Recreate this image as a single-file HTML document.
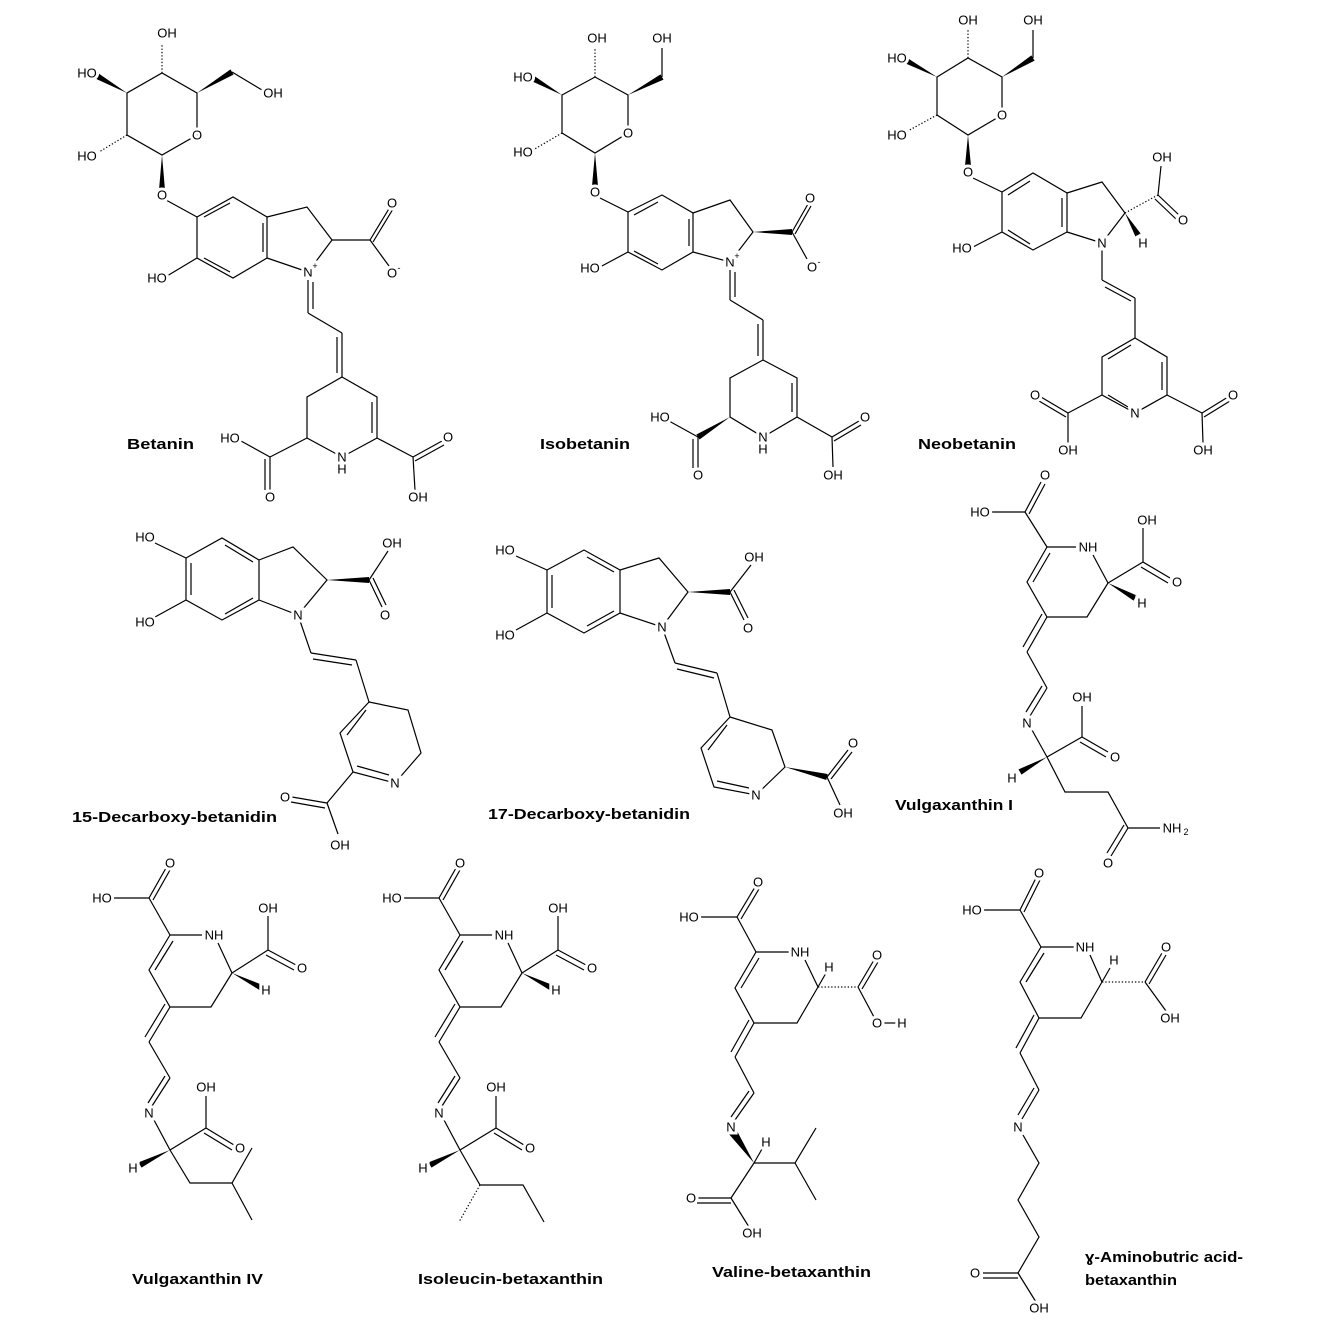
<!DOCTYPE html>
<html><head><meta charset="utf-8"><style>
html,body{margin:0;padding:0;background:#fff}
svg{display:block}
.b line,.b polyline,.b polygon.r{stroke:#000;stroke-width:1.2;fill:none}
.w{fill:#000;stroke:none}
.h{stroke:#000;stroke-width:6;stroke-dasharray:1.3 2;fill:none}
.t text{font-family:"Liberation Sans",sans-serif;font-size:13px;fill:#000;text-anchor:middle;dominant-baseline:central;paint-order:stroke;stroke:#fff;stroke-width:6px}
.t text.s{stroke-width:0}
.L{font-family:"Liberation Sans",sans-serif;font-weight:bold;font-size:15px;fill:#000}
</style></head><body>
<svg width="1323" height="1323" viewBox="0 0 1323 1323" xmlns="http://www.w3.org/2000/svg">
<rect width="1323" height="1323" fill="#fff"/>
<g class="b">
<!-- ===== Betanin ===== -->
<polygon class="r" points="127,93 162,73 197,93 197,135 162,155 127,135"/>
<polygon class="w" points="127,93 98.5,73.4 95.5,78.6"/>
<polygon class="w" points="197,93 233.5,74.6 230.5,69.4"/>
<line x1="232" y1="72" x2="262" y2="90"/>
<line class="h" x1="162" y1="73" x2="162" y2="45"/>
<line class="h" x1="127" y1="135" x2="99" y2="152"/>
<polygon class="w" points="162,155 165,190 159,190"/>
<line x1="166" y1="200" x2="197" y2="217"/>
<polygon class="r" points="197,217 233,197 267,217 267,258 233,278 197,258"/>
<line x1="204" y1="217" x2="230" y2="203"/>
<line x1="263" y1="223" x2="263" y2="252"/>
<line x1="230" y1="272" x2="204" y2="258"/>
<line x1="197" y1="258" x2="167" y2="276"/>
<polyline points="267,217 307,207 332,240 308,272 267,258"/>
<line x1="332" y1="240" x2="370" y2="240"/>
<line x1="370" y1="240" x2="390" y2="207"/>
<line x1="373" y1="242" x2="393" y2="209"/>
<line x1="370" y1="240" x2="389" y2="266"/>
<line x1="308" y1="280" x2="308" y2="313"/>
<line x1="313" y1="282" x2="313" y2="309"/>
<line x1="308" y1="313" x2="342" y2="333"/>
<line x1="342" y1="333" x2="342" y2="377"/>
<line x1="337" y1="337" x2="337" y2="373"/>
<polygon class="r" points="342,377 377,397 377,438 342,457 307,438 307,397"/>
<line x1="372" y1="402" x2="372" y2="433"/>
<line x1="307" y1="438" x2="270" y2="457"/>
<line x1="270" y1="457" x2="241" y2="441"/>
<line x1="270" y1="457" x2="270" y2="490"/>
<line x1="265" y1="459" x2="265" y2="490"/>
<line x1="377" y1="438" x2="413" y2="457"/>
<line x1="413" y1="457" x2="442" y2="441"/>
<line x1="415" y1="461" x2="444" y2="445"/>
<line x1="413" y1="457" x2="415" y2="490"/>

<!-- ===== Isobetanin ===== -->
<polygon class="r" points="562,95 595,77 628,95 628,133 595,153 562,133"/>
<polygon class="w" points="562,95 533.5,75.4 530.5,80.6"/>
<polygon class="w" points="628,95 663.5,79.6 660.5,74.4"/>
<line x1="662" y1="77" x2="662" y2="48"/>
<line class="h" x1="595" y1="77" x2="595" y2="49"/>
<line class="h" x1="562" y1="133" x2="533" y2="150"/>
<polygon class="w" points="595,153 598,186 592,186"/>
<line x1="600" y1="198" x2="628" y2="212"/>
<polygon class="r" points="628,212 662,195 693,213 693,252 662,270 628,252"/>
<line x1="634" y1="215" x2="658" y2="202"/>
<line x1="689" y1="219" x2="689" y2="246"/>
<line x1="658" y1="264" x2="634" y2="251"/>
<line x1="628" y1="252" x2="600" y2="267"/>
<polyline points="693,213 730,200 753,232 730,262 693,252"/>
<polygon class="w" points="753,232 792,235 792,229"/>
<line x1="792" y1="232" x2="808" y2="204"/>
<line x1="795" y1="234" x2="811" y2="206"/>
<line x1="792" y1="232" x2="807" y2="259"/>
<line x1="730" y1="270" x2="730" y2="300"/>
<line x1="735" y1="272" x2="735" y2="297"/>
<line x1="730" y1="300" x2="763" y2="320"/>
<line x1="763" y1="320" x2="763" y2="360"/>
<line x1="758" y1="324" x2="758" y2="356"/>
<polygon class="r" points="763,360 797,378 797,417 763,437 730,417 730,378"/>
<line x1="792" y1="383" x2="792" y2="412"/>
<polygon class="w" points="730,417 699.6,439.5 696.4,434.5"/>
<line x1="698" y1="437" x2="669" y2="421"/>
<line x1="698" y1="437" x2="698" y2="468"/>
<line x1="693" y1="439" x2="693" y2="468"/>
<line x1="797" y1="417" x2="832" y2="437"/>
<line x1="832" y1="437" x2="859" y2="421"/>
<line x1="834" y1="441" x2="861" y2="425"/>
<line x1="832" y1="437" x2="833" y2="467"/>

<!-- ===== Neobetanin ===== -->
<polygon class="r" points="937,77 968,58 1002,77 1002,115 968,135 937,115"/>
<polygon class="w" points="937,77 906.4,57.4 903.6,62.6"/>
<polygon class="w" points="1002,77 1034.6,60.6 1031.4,55.4"/>
<line x1="1033" y1="58" x2="1033" y2="30"/>
<line class="h" x1="968" y1="58" x2="968" y2="30"/>
<line class="h" x1="937" y1="115" x2="906" y2="132"/>
<polygon class="w" points="968,135 971,166 965,166"/>
<line x1="973" y1="178" x2="1002" y2="192"/>
<polygon class="r" points="1002,192 1033,173 1067,193 1067,232 1033,250 1002,232"/>
<line x1="1008" y1="195" x2="1030" y2="181"/>
<line x1="1062" y1="198" x2="1062" y2="227"/>
<line x1="1030" y1="244" x2="1008" y2="230"/>
<line x1="1002" y1="232" x2="973" y2="247"/>
<polyline points="1067,193 1102,182 1125,213 1102,243 1067,232"/>
<line class="h" x1="1125" y1="213" x2="1158" y2="195"/>
<line x1="1158" y1="195" x2="1161" y2="166"/>
<line x1="1158" y1="195" x2="1179" y2="215"/>
<line x1="1155" y1="199" x2="1176" y2="219"/>
<polygon class="w" points="1125,213 1140.6,233.5 1135.4,236.5"/>
<line x1="1102" y1="250" x2="1102" y2="280"/>
<line x1="1102" y1="280" x2="1135" y2="298"/>
<line x1="1105" y1="287" x2="1131" y2="301"/>
<line x1="1135" y1="298" x2="1135" y2="338"/>
<polygon class="r" points="1135,338 1167,357 1167,395 1135,413 1102,395 1102,357"/>
<line x1="1131" y1="345" x2="1108" y2="359"/>
<line x1="1162" y1="362" x2="1162" y2="390"/>
<line x1="1128" y1="407" x2="1108" y2="395"/>
<line x1="1102" y1="395" x2="1068" y2="413"/>
<line x1="1068" y1="413" x2="1041" y2="397"/>
<line x1="1066" y1="417" x2="1039" y2="401"/>
<line x1="1068" y1="413" x2="1068" y2="443"/>
<line x1="1167" y1="395" x2="1202" y2="413"/>
<line x1="1202" y1="413" x2="1228" y2="397"/>
<line x1="1204" y1="417" x2="1230" y2="401"/>
<line x1="1202" y1="413" x2="1203" y2="443"/>

<!-- ===== 15-Decarboxy ===== -->
<polygon class="r" points="186,558 222,538 259,560 259,600 222,620 186,600"/>
<line x1="191" y1="563" x2="191" y2="595"/>
<line x1="225" y1="545" x2="253" y2="562"/>
<line x1="253" y1="598" x2="225" y2="614"/>
<line x1="186" y1="558" x2="155" y2="543"/>
<line x1="186" y1="600" x2="155" y2="617"/>
<polyline points="259,560 293,547 327,580 298,615 259,600"/>
<polygon class="w" points="327,580 369,583 369,577"/>
<line x1="369" y1="580" x2="388" y2="551"/>
<line x1="369" y1="580" x2="382" y2="607"/>
<line x1="373" y1="578" x2="386" y2="605"/>
<line x1="298" y1="615" x2="311" y2="653"/>
<line x1="311" y1="653" x2="356" y2="660"/>
<line x1="313" y1="659" x2="352" y2="665"/>
<line x1="356" y1="660" x2="369" y2="702"/>
<polygon class="r" points="369,702 408,710 421,753 395,783 353,772 340,733"/>
<line x1="366" y1="710" x2="347" y2="735"/>
<line x1="357" y1="766" x2="389" y2="775"/>
<line x1="353" y1="772" x2="327" y2="803"/>
<line x1="327" y1="803" x2="292" y2="797"/>
<line x1="325" y1="808" x2="291" y2="802"/>
<line x1="327" y1="803" x2="338" y2="834"/>

<!-- ===== 17-Decarboxy ===== -->
<polygon class="r" points="547,570 584,550 620,570 620,613 584,633 547,613"/>
<line x1="552" y1="575" x2="552" y2="608"/>
<line x1="587" y1="557" x2="614" y2="572"/>
<line x1="614" y1="611" x2="587" y2="626"/>
<line x1="547" y1="570" x2="516" y2="556"/>
<line x1="547" y1="613" x2="516" y2="630"/>
<polyline points="620,570 659,558 688,592 662,627 620,613"/>
<polygon class="w" points="688,592 730,595 730,589"/>
<line x1="730" y1="592" x2="751" y2="565"/>
<line x1="730" y1="592" x2="744" y2="620"/>
<line x1="734" y1="590" x2="748" y2="618"/>
<line x1="662" y1="627" x2="675" y2="663"/>
<line x1="675" y1="663" x2="717" y2="673"/>
<line x1="677" y1="669" x2="714" y2="678"/>
<line x1="717" y1="673" x2="730" y2="717"/>
<polygon class="r" points="730,717 772,730 785,767 756,795 714,787 701,748"/>
<line x1="727" y1="725" x2="708" y2="750"/>
<line x1="717" y1="781" x2="749" y2="788"/>
<polygon class="w" points="785,767 826.3,780 827.7,774"/>
<line x1="827" y1="777" x2="848" y2="750"/>
<line x1="831" y1="779" x2="852" y2="752"/>
<line x1="827" y1="777" x2="840" y2="805"/>

<!-- ===== Vulgaxanthin I ===== -->
<line x1="992" y1="512" x2="1025" y2="512"/>
<line x1="1025" y1="512" x2="1041" y2="482"/>
<line x1="1029" y1="514" x2="1045" y2="484"/>
<line x1="1025" y1="512" x2="1047" y2="547"/>
<line x1="1047" y1="547" x2="1076" y2="547"/>
<line x1="1093" y1="555" x2="1108" y2="583"/>
<line x1="1108" y1="583" x2="1143" y2="562"/>
<line x1="1143" y1="562" x2="1143" y2="528"/>
<line x1="1143" y1="562" x2="1170" y2="578"/>
<line x1="1141" y1="567" x2="1168" y2="583"/>
<polygon class="w" points="1108,583 1133.5,600.6 1136.5,595.4"/>
<polyline points="1108,583 1087,617 1047,617 1027,582 1047,547"/>
<line x1="1033" y1="582" x2="1050" y2="553"/>
<line x1="1047" y1="617" x2="1027" y2="652"/>
<line x1="1042" y1="614" x2="1023" y2="647"/>
<line x1="1027" y1="652" x2="1047" y2="688"/>
<line x1="1047" y1="688" x2="1030" y2="716"/>
<line x1="1042" y1="686" x2="1026" y2="712"/>
<line x1="1032" y1="730" x2="1047" y2="757"/>
<line x1="1047" y1="757" x2="1082" y2="737"/>
<line x1="1082" y1="737" x2="1082" y2="706"/>
<line x1="1082" y1="737" x2="1108" y2="752"/>
<line x1="1080" y1="742" x2="1106" y2="757"/>
<polygon class="w" points="1047,757 1021.5,774.6 1018.5,769.4"/>
<polyline points="1047,757 1065,792 1108,792 1128,828 1160,828"/>
<line x1="1128" y1="828" x2="1111" y2="856"/>
<line x1="1124" y1="825" x2="1107" y2="853"/>

<!-- ===== Vulgaxanthin IV ===== -->
<line x1="114" y1="898" x2="149" y2="898"/>
<line x1="149" y1="898" x2="166" y2="868"/>
<line x1="153" y1="900" x2="170" y2="870"/>
<line x1="149" y1="898" x2="170" y2="935"/>
<line x1="170" y1="935" x2="202" y2="935"/>
<line x1="218" y1="943" x2="232" y2="973"/>
<line x1="232" y1="973" x2="268" y2="950"/>
<line x1="268" y1="950" x2="268" y2="916"/>
<line x1="268" y1="950" x2="296" y2="965"/>
<line x1="266" y1="955" x2="294" y2="970"/>
<polygon class="w" points="232,973 260.5,990.6 263.5,985.4"/>
<polyline points="232,973 211,1007 170,1007 149,970 170,935"/>
<line x1="155" y1="970" x2="173" y2="941"/>
<line x1="170" y1="1007" x2="149" y2="1042"/>
<line x1="165" y1="1004" x2="145" y2="1037"/>
<line x1="149" y1="1042" x2="170" y2="1078"/>
<line x1="170" y1="1078" x2="152" y2="1106"/>
<line x1="165" y1="1076" x2="148" y2="1103"/>
<line x1="154" y1="1120" x2="170" y2="1150"/>
<line x1="170" y1="1150" x2="206" y2="1128"/>
<line x1="206" y1="1128" x2="206" y2="1096"/>
<line x1="206" y1="1128" x2="234" y2="1145"/>
<line x1="204" y1="1133" x2="232" y2="1150"/>
<polygon class="w" points="170,1150 141.5,1167.6 138.5,1162.4"/>
<polyline points="170,1150 190,1183 232,1183 252,1148"/>
<line x1="232" y1="1183" x2="252" y2="1220"/>

<!-- ===== Isoleucin ===== -->
<line x1="404" y1="898" x2="439" y2="898"/>
<line x1="439" y1="898" x2="456" y2="868"/>
<line x1="443" y1="900" x2="460" y2="870"/>
<line x1="439" y1="898" x2="460" y2="935"/>
<line x1="460" y1="935" x2="492" y2="935"/>
<line x1="508" y1="943" x2="522" y2="973"/>
<line x1="522" y1="973" x2="558" y2="950"/>
<line x1="558" y1="950" x2="558" y2="916"/>
<line x1="558" y1="950" x2="586" y2="965"/>
<line x1="556" y1="955" x2="584" y2="970"/>
<polygon class="w" points="522,973 550.5,990.6 553.5,985.4"/>
<polyline points="522,973 501,1007 460,1007 439,970 460,935"/>
<line x1="445" y1="970" x2="463" y2="941"/>
<line x1="460" y1="1007" x2="439" y2="1042"/>
<line x1="455" y1="1004" x2="435" y2="1037"/>
<line x1="439" y1="1042" x2="460" y2="1078"/>
<line x1="460" y1="1078" x2="442" y2="1106"/>
<line x1="455" y1="1076" x2="438" y2="1103"/>
<line x1="444" y1="1120" x2="460" y2="1150"/>
<line x1="460" y1="1150" x2="496" y2="1128"/>
<line x1="496" y1="1128" x2="496" y2="1096"/>
<line x1="496" y1="1128" x2="524" y2="1145"/>
<line x1="494" y1="1133" x2="522" y2="1150"/>
<polygon class="w" points="460,1150 431.5,1167.6 428.5,1162.4"/>
<polyline points="460,1150 480,1185 523,1185 544,1222"/>
<line class="h" x1="480" y1="1185" x2="459" y2="1222"/>

<!-- ===== Valine ===== -->
<line x1="701" y1="917" x2="737" y2="917"/>
<line x1="737" y1="917" x2="755" y2="887"/>
<line x1="741" y1="919" x2="759" y2="889"/>
<line x1="737" y1="917" x2="756" y2="952"/>
<line x1="756" y1="952" x2="790" y2="952"/>
<line x1="805" y1="960" x2="818" y2="987"/>
<line x1="818" y1="987" x2="826" y2="973"/>
<line class="h" x1="818" y1="987" x2="858" y2="987"/>
<line x1="858" y1="987" x2="874" y2="960"/>
<line x1="862" y1="989" x2="878" y2="962"/>
<line x1="858" y1="987" x2="874" y2="1017"/>
<line x1="884" y1="1023" x2="896" y2="1023"/>
<polyline points="818,987 797,1023 754,1023 735,988 756,952"/>
<line x1="741" y1="988" x2="759" y2="958"/>
<line x1="754" y1="1023" x2="735" y2="1057"/>
<line x1="749" y1="1020" x2="731" y2="1052"/>
<line x1="735" y1="1057" x2="754" y2="1093"/>
<line x1="754" y1="1093" x2="735" y2="1120"/>
<line x1="749" y1="1091" x2="731" y2="1117"/>
<polygon class="w" points="754,1163 728,1133 736,1129"/>
<line x1="754" y1="1163" x2="762" y2="1149"/>
<polyline points="754,1163 795,1163 816,1128"/>
<line x1="795" y1="1163" x2="816" y2="1200"/>
<line x1="754" y1="1163" x2="731" y2="1198"/>
<line x1="731" y1="1198" x2="697" y2="1198"/>
<line x1="731" y1="1203" x2="697" y2="1203"/>
<line x1="731" y1="1198" x2="749" y2="1227"/>

<!-- ===== GABA ===== -->
<line x1="984" y1="910" x2="1020" y2="910"/>
<line x1="1020" y1="910" x2="1036" y2="878"/>
<line x1="1024" y1="912" x2="1040" y2="880"/>
<line x1="1020" y1="910" x2="1041" y2="947"/>
<line x1="1041" y1="947" x2="1075" y2="947"/>
<line x1="1090" y1="955" x2="1102" y2="982"/>
<line x1="1102" y1="982" x2="1110" y2="968"/>
<line class="h" x1="1102" y1="982" x2="1145" y2="982"/>
<line x1="1145" y1="982" x2="1162" y2="953"/>
<line x1="1149" y1="984" x2="1166" y2="955"/>
<line x1="1145" y1="982" x2="1166" y2="1011"/>
<polyline points="1102,982 1081,1018 1039,1018 1020,982 1041,947"/>
<line x1="1026" y1="982" x2="1044" y2="953"/>
<line x1="1039" y1="1018" x2="1020" y2="1053"/>
<line x1="1034" y1="1015" x2="1016" y2="1048"/>
<line x1="1020" y1="1053" x2="1039" y2="1090"/>
<line x1="1039" y1="1090" x2="1022" y2="1119"/>
<line x1="1034" y1="1088" x2="1018" y2="1115"/>
<polyline points="1023,1135 1039,1163 1018,1200 1039,1237 1018,1273"/>
<line x1="1018" y1="1273" x2="983" y2="1273"/>
<line x1="1018" y1="1278" x2="983" y2="1278"/>
<line x1="1018" y1="1273" x2="1036" y2="1302"/>
</g>

<g class="t">
<!-- Betanin -->
<text x="167" y="33">OH</text><text x="87" y="73">HO</text><text x="273" y="93">OH</text>
<text x="197" y="135">O</text><text x="87" y="156">HO</text><text x="162" y="195">O</text>
<text x="157" y="278">HO</text><text x="308" y="272">N</text><text x="315" y="266" style="font-size:9px">+</text>
<text x="392" y="203">O</text><text x="392" y="273">O</text><text x="399" y="268" style="font-size:9px" class="s">-</text>
<text x="230" y="438">HO</text><text x="342" y="457">N</text><text x="342" y="469" class="s">H</text>
<text x="270" y="497">O</text><text x="448" y="437">O</text><text x="418" y="497">OH</text>
<!-- Isobetanin -->
<text x="597" y="38">OH</text><text x="662" y="38">OH</text><text x="523" y="77">HO</text>
<text x="628" y="133">O</text><text x="523" y="152">HO</text><text x="595" y="192">O</text>
<text x="590" y="268">HO</text><text x="730" y="262">N</text><text x="737" y="256" style="font-size:9px">+</text>
<text x="810" y="198">O</text><text x="812" y="267">O</text><text x="819" y="262" style="font-size:9px" class="s">-</text>
<text x="660" y="417">HO</text><text x="763" y="437">N</text><text x="763" y="449" class="s">H</text>
<text x="698" y="475">O</text><text x="865" y="417">O</text><text x="833" y="475">OH</text>
<!-- Neobetanin -->
<text x="968" y="20">OH</text><text x="1033" y="20">OH</text><text x="897" y="58">HO</text>
<text x="1002" y="115">O</text><text x="897" y="135">HO</text><text x="968" y="172">O</text>
<text x="962" y="248">HO</text><text x="1102" y="243">N</text><text x="1143" y="243">H</text>
<text x="1162" y="157">OH</text><text x="1183" y="220">O</text>
<text x="1135" y="413">N</text><text x="1035" y="395">O</text><text x="1068" y="450">OH</text>
<text x="1233" y="395">O</text><text x="1203" y="450">OH</text>
<!-- 15-Decarboxy -->
<text x="145" y="537">HO</text><text x="145" y="622">HO</text><text x="298" y="615">N</text>
<text x="392" y="543">OH</text><text x="385" y="615">O</text><text x="395" y="783">N</text>
<text x="285" y="797">O</text><text x="340" y="845">OH</text>
<!-- 17-Decarboxy -->
<text x="505" y="550">HO</text><text x="505" y="635">HO</text><text x="662" y="627">N</text>
<text x="754" y="557">OH</text><text x="748" y="628">O</text><text x="756" y="795">N</text>
<text x="853" y="743">O</text><text x="843" y="813">OH</text>
<!-- Vulgaxanthin I -->
<text x="980" y="512">HO</text><text x="1045" y="475">O</text><text x="1088" y="547">NH</text>
<text x="1147" y="520">OH</text><text x="1177" y="582">O</text><text x="1142" y="603">H</text>
<text x="1027" y="723">N</text><text x="1082" y="697">OH</text><text x="1115" y="757">O</text>
<text x="1012" y="778">H</text><text x="1172" y="828">NH</text><text x="1186" y="832" class="s" style="font-size:9px">2</text><text x="1108" y="863">O</text>
<!-- Vulgaxanthin IV -->
<text x="102" y="898">HO</text><text x="170" y="863">O</text><text x="214" y="935">NH</text>
<text x="268" y="908">OH</text><text x="302" y="968">O</text><text x="266" y="990">H</text>
<text x="149" y="1113">N</text><text x="206" y="1087">OH</text><text x="240" y="1148">O</text><text x="133" y="1168">H</text>
<!-- Isoleucin -->
<text x="392" y="898">HO</text><text x="460" y="863">O</text><text x="504" y="935">NH</text>
<text x="558" y="908">OH</text><text x="592" y="968">O</text><text x="556" y="990">H</text>
<text x="439" y="1113">N</text><text x="496" y="1087">OH</text><text x="530" y="1148">O</text><text x="423" y="1168">H</text>
<!-- Valine -->
<text x="689" y="917">HO</text><text x="758" y="882">O</text><text x="800" y="952">NH</text>
<text x="829" y="967">H</text><text x="877" y="955">O</text><text x="877" y="1023">O</text><text x="902" y="1023">H</text>
<text x="731" y="1127">N</text><text x="766" y="1142">H</text><text x="691" y="1198">O</text><text x="752" y="1233">OH</text>
<!-- GABA -->
<text x="972" y="910">HO</text><text x="1039" y="873">O</text><text x="1085" y="947">NH</text>
<text x="1114" y="960">H</text><text x="1166" y="947">O</text><text x="1170" y="1018">OH</text>
<text x="1018" y="1127">N</text><text x="975" y="1273">O</text><text x="1039" y="1308">OH</text>
</g>

<g class="L">
<text x="127" y="449" textLength="67" lengthAdjust="spacingAndGlyphs">Betanin</text>
<text x="540" y="449" textLength="90" lengthAdjust="spacingAndGlyphs">Isobetanin</text>
<text x="918" y="449" textLength="98" lengthAdjust="spacingAndGlyphs">Neobetanin</text>
<text x="72" y="822" textLength="205" lengthAdjust="spacingAndGlyphs">15-Decarboxy-betanidin</text>
<text x="488" y="819" textLength="202" lengthAdjust="spacingAndGlyphs">17-Decarboxy-betanidin</text>
<text x="895" y="810" textLength="118" lengthAdjust="spacingAndGlyphs">Vulgaxanthin I</text>
<text x="132" y="1284" textLength="131" lengthAdjust="spacingAndGlyphs">Vulgaxanthin IV</text>
<text x="418" y="1284" textLength="185" lengthAdjust="spacingAndGlyphs">Isoleucin-betaxanthin</text>
<text x="712" y="1277" textLength="159" lengthAdjust="spacingAndGlyphs">Valine-betaxanthin</text>
<text x="1085" y="1262" textLength="158" lengthAdjust="spacingAndGlyphs">ɣ-Aminobutric acid-</text>
<text x="1085" y="1285" textLength="92" lengthAdjust="spacingAndGlyphs">betaxanthin</text>
</g>
</svg>
</body></html>
